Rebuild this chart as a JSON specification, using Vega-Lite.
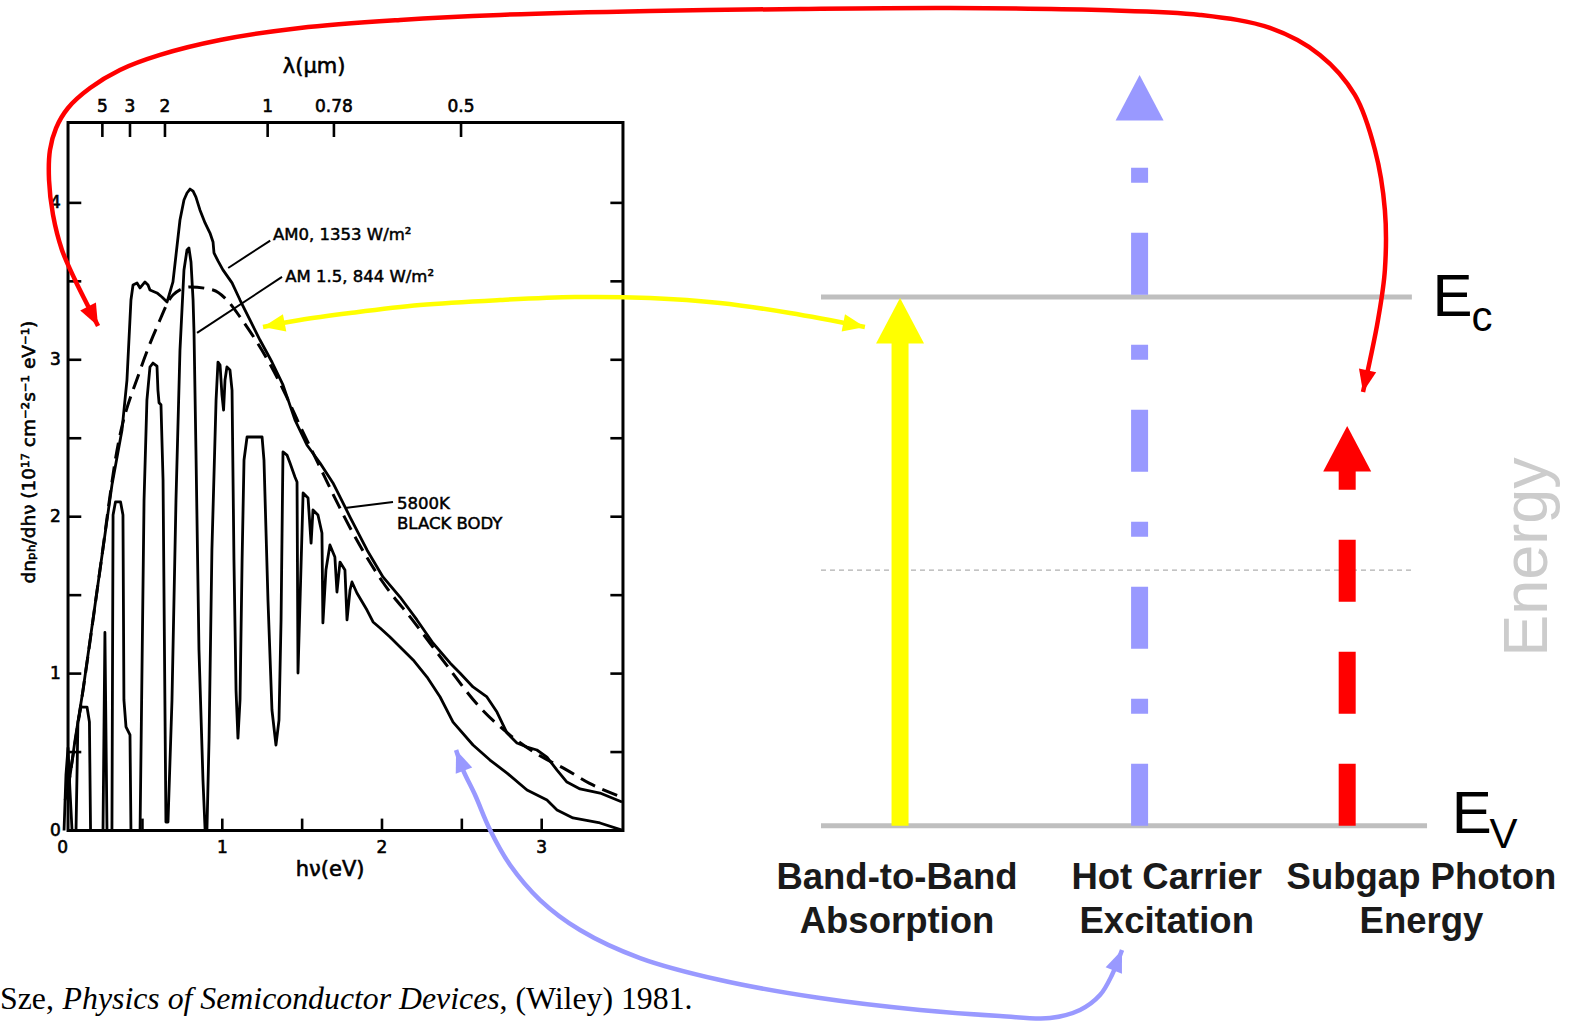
{
  "$schema": "https://vega.github.io/schema/vega-lite/v6.json",
  "width": 1573,
  "height": 1021,
  "autosize": {"type": "none"},
  "padding": 0,
  "background": "white",
  "config": {"view": {"stroke": null}},
  "encoding": {
    "x": {"field": "x", "type": "quantitative", "scale": {"domain": [-0.392, 9.458], "nice": false, "zero": false}, "axis": null},
    "y": {"field": "y", "type": "quantitative", "scale": {"domain": [-1.214, 5.293], "nice": false, "zero": false}, "axis": null}
  },
  "datasets": {
    "frame": [{"x": 0.034, "x2": 3.509, "y": 0, "y2": 4.513}],
    "ticks": [
      {"x": 0.034, "x2": 0.117, "y": 0.5, "y2": 0.5}, {"x": 0.034, "x2": 0.117, "y": 1, "y2": 1},
      {"x": 0.034, "x2": 0.117, "y": 1.5, "y2": 1.5}, {"x": 0.034, "x2": 0.117, "y": 2, "y2": 2},
      {"x": 0.034, "x2": 0.117, "y": 2.5, "y2": 2.5}, {"x": 0.034, "x2": 0.117, "y": 3, "y2": 3},
      {"x": 0.034, "x2": 0.117, "y": 3.5, "y2": 3.5}, {"x": 0.034, "x2": 0.117, "y": 4, "y2": 4},
      {"x": 3.509, "x2": 3.43, "y": 0.5, "y2": 0.5}, {"x": 3.509, "x2": 3.43, "y": 1, "y2": 1},
      {"x": 3.509, "x2": 3.43, "y": 1.5, "y2": 1.5}, {"x": 3.509, "x2": 3.43, "y": 2, "y2": 2},
      {"x": 3.509, "x2": 3.43, "y": 2.5, "y2": 2.5}, {"x": 3.509, "x2": 3.43, "y": 3, "y2": 3},
      {"x": 3.509, "x2": 3.43, "y": 3.5, "y2": 3.5}, {"x": 3.509, "x2": 3.43, "y": 4, "y2": 4},
      {"x": 0.5, "x2": 0.5, "y": 0, "y2": 0.076}, {"x": 1, "x2": 1, "y": 0, "y2": 0.076},
      {"x": 1.5, "x2": 1.5, "y": 0, "y2": 0.076}, {"x": 2, "x2": 2, "y": 0, "y2": 0.076},
      {"x": 2.5, "x2": 2.5, "y": 0, "y2": 0.076}, {"x": 3, "x2": 3, "y": 0, "y2": 0.076},
      {"x": 0.249, "x2": 0.249, "y": 4.513, "y2": 4.42}, {"x": 0.422, "x2": 0.422, "y": 4.513, "y2": 4.42},
      {"x": 0.641, "x2": 0.641, "y": 4.513, "y2": 4.42}, {"x": 1.284, "x2": 1.284, "y": 4.513, "y2": 4.42},
      {"x": 1.699, "x2": 1.699, "y": 4.513, "y2": 4.42}, {"x": 2.495, "x2": 2.495, "y": 4.513, "y2": 4.42}
    ],
    "tickLabels": [
      {"x": 0.249, "y": 4.611, "label": "5"}, {"x": 0.422, "y": 4.611, "label": "3"},
      {"x": 0.641, "y": 4.611, "label": "2"}, {"x": 1.284, "y": 4.611, "label": "1"},
      {"x": 1.699, "y": 4.611, "label": "0.78"}, {"x": 2.495, "y": 4.611, "label": "0.5"},
      {"x": 0, "y": -0.11, "label": "0"}, {"x": 1, "y": -0.11, "label": "1"},
      {"x": 2, "y": -0.11, "label": "2"}, {"x": 3, "y": -0.11, "label": "3"},
      {"x": -0.045, "y": 0, "label": "0"}, {"x": -0.045, "y": 1, "label": "1"},
      {"x": -0.045, "y": 2, "label": "2"}, {"x": -0.045, "y": 3, "label": "3"},
      {"x": -0.045, "y": 4, "label": "4"}
    ],
    "axisTitles": [
      {"x": 1.575, "y": 4.866, "label": "λ(μm)"},
      {"x": 1.675, "y": -0.252, "label": "hν(eV)"}
    ],
    "yTitle": [{"x": -0.21, "y": 2.412, "label": "dnₚₕ/dhν (10¹⁷ cm⁻²s⁻¹ eV⁻¹)"}],
    "spectra": [
      {"series": "5800K", "x": 0.03, "y": 0.25}, {"series": "5800K", "x": 0.128, "y": 0.895},
      {"series": "5800K", "x": 0.234, "y": 1.66}, {"series": "5800K", "x": 0.341, "y": 2.425},
      {"series": "5800K", "x": 0.485, "y": 2.932}, {"series": "5800K", "x": 0.591, "y": 3.209},
      {"series": "5800K", "x": 0.691, "y": 3.413}, {"series": "5800K", "x": 0.798, "y": 3.464},
      {"series": "5800K", "x": 0.942, "y": 3.445}, {"series": "5800K", "x": 1.029, "y": 3.381},
      {"series": "5800K", "x": 1.111, "y": 3.273}, {"series": "5800K", "x": 1.2, "y": 3.14},
      {"series": "5800K", "x": 1.3, "y": 2.97}, {"series": "5800K", "x": 1.4, "y": 2.77},
      {"series": "5800K", "x": 1.5, "y": 2.55}, {"series": "5800K", "x": 1.6, "y": 2.34},
      {"series": "5800K", "x": 1.7, "y": 2.13}, {"series": "5800K", "x": 1.8, "y": 1.93},
      {"series": "5800K", "x": 1.9, "y": 1.75}, {"series": "5800K", "x": 2.0, "y": 1.59},
      {"series": "5800K", "x": 2.2, "y": 1.33}, {"series": "5800K", "x": 2.4, "y": 1.06},
      {"series": "5800K", "x": 2.6, "y": 0.8}, {"series": "5800K", "x": 2.8, "y": 0.61},
      {"series": "5800K", "x": 3.0, "y": 0.47}, {"series": "5800K", "x": 3.15, "y": 0.39},
      {"series": "5800K", "x": 3.3, "y": 0.3}, {"series": "5800K", "x": 3.5, "y": 0.214},

      {"series": "AM0", "x": 0.015, "y": 0.194}, {"series": "AM0", "x": 0.034, "y": 0.258},
      {"series": "AM0", "x": 0.078, "y": 0.577}, {"series": "AM0", "x": 0.128, "y": 0.895},
      {"series": "AM0", "x": 0.234, "y": 1.66}, {"series": "AM0", "x": 0.309, "y": 2.202},
      {"series": "AM0", "x": 0.372, "y": 2.553}, {"series": "AM0", "x": 0.403, "y": 2.871},
      {"series": "AM0", "x": 0.428, "y": 3.381}, {"series": "AM0", "x": 0.441, "y": 3.477},
      {"series": "AM0", "x": 0.466, "y": 3.489}, {"series": "AM0", "x": 0.485, "y": 3.458},
      {"series": "AM0", "x": 0.516, "y": 3.496}, {"series": "AM0", "x": 0.535, "y": 3.477},
      {"series": "AM0", "x": 0.547, "y": 3.445}, {"series": "AM0", "x": 0.591, "y": 3.426},
      {"series": "AM0", "x": 0.622, "y": 3.4}, {"series": "AM0", "x": 0.654, "y": 3.368},
      {"series": "AM0", "x": 0.691, "y": 3.496}, {"series": "AM0", "x": 0.735, "y": 3.891},
      {"series": "AM0", "x": 0.76, "y": 4.018}, {"series": "AM0", "x": 0.779, "y": 4.063},
      {"series": "AM0", "x": 0.798, "y": 4.088}, {"series": "AM0", "x": 0.817, "y": 4.075},
      {"series": "AM0", "x": 0.835, "y": 4.037}, {"series": "AM0", "x": 0.86, "y": 3.955},
      {"series": "AM0", "x": 0.892, "y": 3.872}, {"series": "AM0", "x": 0.923, "y": 3.808},
      {"series": "AM0", "x": 0.942, "y": 3.751}, {"series": "AM0", "x": 0.948, "y": 3.681},
      {"series": "AM0", "x": 0.973, "y": 3.63}, {"series": "AM0", "x": 1.004, "y": 3.573},
      {"series": "AM0", "x": 1.061, "y": 3.49}, {"series": "AM0", "x": 1.111, "y": 3.381},
      {"series": "AM0", "x": 1.173, "y": 3.254}, {"series": "AM0", "x": 1.236, "y": 3.126},
      {"series": "AM0", "x": 1.311, "y": 2.986}, {"series": "AM0", "x": 1.38, "y": 2.84},
      {"series": "AM0", "x": 1.455, "y": 2.617}, {"series": "AM0", "x": 1.53, "y": 2.457},
      {"series": "AM0", "x": 1.612, "y": 2.342}, {"series": "AM0", "x": 1.693, "y": 2.215},
      {"series": "AM0", "x": 1.737, "y": 2.126}, {"series": "AM0", "x": 1.8, "y": 1.998},
      {"series": "AM0", "x": 1.906, "y": 1.788}, {"series": "AM0", "x": 2.006, "y": 1.616},
      {"series": "AM0", "x": 2.113, "y": 1.488}, {"series": "AM0", "x": 2.219, "y": 1.342},
      {"series": "AM0", "x": 2.319, "y": 1.195}, {"series": "AM0", "x": 2.426, "y": 1.068},
      {"series": "AM0", "x": 2.488, "y": 1.004}, {"series": "AM0", "x": 2.57, "y": 0.915},
      {"series": "AM0", "x": 2.657, "y": 0.851}, {"series": "AM0", "x": 2.72, "y": 0.755},
      {"series": "AM0", "x": 2.783, "y": 0.621}, {"series": "AM0", "x": 2.845, "y": 0.558},
      {"series": "AM0", "x": 2.908, "y": 0.532}, {"series": "AM0", "x": 2.97, "y": 0.513},
      {"series": "AM0", "x": 3.033, "y": 0.468}, {"series": "AM0", "x": 3.096, "y": 0.385},
      {"series": "AM0", "x": 3.158, "y": 0.309}, {"series": "AM0", "x": 3.24, "y": 0.265},
      {"series": "AM0", "x": 3.365, "y": 0.239}, {"series": "AM0", "x": 3.503, "y": 0.182},

      {"series": "AM1.5", "x": 0.009, "y": 0}, {"series": "AM1.5", "x": 0.021, "y": 0.354},
      {"series": "AM1.5", "x": 0.034, "y": 0.526}, {"series": "AM1.5", "x": 0.046, "y": 0.258},
      {"series": "AM1.5", "x": 0.059, "y": 0.003}, {"series": "AM1.5", "x": 0.084, "y": 0},
      {"series": "AM1.5", "x": 0.096, "y": 0.692}, {"series": "AM1.5", "x": 0.115, "y": 0.787},
      {"series": "AM1.5", "x": 0.153, "y": 0.787}, {"series": "AM1.5", "x": 0.168, "y": 0.692},
      {"series": "AM1.5", "x": 0.175, "y": 0}, {"series": "AM1.5", "x": 0.253, "y": 0},
      {"series": "AM1.5", "x": 0.265, "y": 1.262}, {"series": "AM1.5", "x": 0.278, "y": 0},
      {"series": "AM1.5", "x": 0.309, "y": 0}, {"series": "AM1.5", "x": 0.316, "y": 2.011},
      {"series": "AM1.5", "x": 0.331, "y": 2.094}, {"series": "AM1.5", "x": 0.363, "y": 2.094},
      {"series": "AM1.5", "x": 0.378, "y": 2.011}, {"series": "AM1.5", "x": 0.384, "y": 0.832},
      {"series": "AM1.5", "x": 0.397, "y": 0.66}, {"series": "AM1.5", "x": 0.422, "y": 0.609},
      {"series": "AM1.5", "x": 0.428, "y": 0}, {"series": "AM1.5", "x": 0.485, "y": 0},
      {"series": "AM1.5", "x": 0.51, "y": 2.106}, {"series": "AM1.5", "x": 0.528, "y": 2.743},
      {"series": "AM1.5", "x": 0.547, "y": 2.954}, {"series": "AM1.5", "x": 0.566, "y": 2.979},
      {"series": "AM1.5", "x": 0.591, "y": 2.96}, {"series": "AM1.5", "x": 0.597, "y": 2.807},
      {"series": "AM1.5", "x": 0.604, "y": 2.726}, {"series": "AM1.5", "x": 0.616, "y": 2.713},
      {"series": "AM1.5", "x": 0.629, "y": 2.234}, {"series": "AM1.5", "x": 0.647, "y": 0.054},
      {"series": "AM1.5", "x": 0.66, "y": 0.054}, {"series": "AM1.5", "x": 0.685, "y": 0.832},
      {"series": "AM1.5", "x": 0.71, "y": 2.106}, {"series": "AM1.5", "x": 0.735, "y": 3.062},
      {"series": "AM1.5", "x": 0.76, "y": 3.572}, {"series": "AM1.5", "x": 0.779, "y": 3.7},
      {"series": "AM1.5", "x": 0.791, "y": 3.713}, {"series": "AM1.5", "x": 0.804, "y": 3.623},
      {"series": "AM1.5", "x": 0.817, "y": 3.381}, {"series": "AM1.5", "x": 0.823, "y": 3.171},
      {"series": "AM1.5", "x": 0.835, "y": 2.425}, {"series": "AM1.5", "x": 0.854, "y": 1.151},
      {"series": "AM1.5", "x": 0.879, "y": 0.322}, {"series": "AM1.5", "x": 0.892, "y": 0.01},
      {"series": "AM1.5", "x": 0.904, "y": 0.01}, {"series": "AM1.5", "x": 0.917, "y": 0.577},
      {"series": "AM1.5", "x": 0.935, "y": 1.788}, {"series": "AM1.5", "x": 0.961, "y": 2.743},
      {"series": "AM1.5", "x": 0.973, "y": 2.985}, {"series": "AM1.5", "x": 0.986, "y": 2.966},
      {"series": "AM1.5", "x": 0.998, "y": 2.775}, {"series": "AM1.5", "x": 1.008, "y": 2.68},
      {"series": "AM1.5", "x": 1.017, "y": 2.871}, {"series": "AM1.5", "x": 1.029, "y": 2.954},
      {"series": "AM1.5", "x": 1.048, "y": 2.935}, {"series": "AM1.5", "x": 1.061, "y": 2.807},
      {"series": "AM1.5", "x": 1.073, "y": 1.724}, {"series": "AM1.5", "x": 1.086, "y": 0.895},
      {"series": "AM1.5", "x": 1.098, "y": 0.589}, {"series": "AM1.5", "x": 1.111, "y": 0.832},
      {"series": "AM1.5", "x": 1.124, "y": 1.724}, {"series": "AM1.5", "x": 1.136, "y": 2.361},
      {"series": "AM1.5", "x": 1.155, "y": 2.508}, {"series": "AM1.5", "x": 1.249, "y": 2.508},
      {"series": "AM1.5", "x": 1.261, "y": 2.361}, {"series": "AM1.5", "x": 1.286, "y": 1.469},
      {"series": "AM1.5", "x": 1.311, "y": 0.768}, {"series": "AM1.5", "x": 1.336, "y": 0.545},
      {"series": "AM1.5", "x": 1.355, "y": 0.704}, {"series": "AM1.5", "x": 1.368, "y": 1.342},
      {"series": "AM1.5", "x": 1.38, "y": 2.413}, {"series": "AM1.5", "x": 1.405, "y": 2.393},
      {"series": "AM1.5", "x": 1.424, "y": 2.342}, {"series": "AM1.5", "x": 1.455, "y": 2.253},
      {"series": "AM1.5", "x": 1.468, "y": 2.221}, {"series": "AM1.5", "x": 1.474, "y": 1.004},
      {"series": "AM1.5", "x": 1.487, "y": 1.469}, {"series": "AM1.5", "x": 1.506, "y": 2.151},
      {"series": "AM1.5", "x": 1.537, "y": 2.119}, {"series": "AM1.5", "x": 1.556, "y": 1.832},
      {"series": "AM1.5", "x": 1.568, "y": 2.043}, {"series": "AM1.5", "x": 1.599, "y": 2.011},
      {"series": "AM1.5", "x": 1.624, "y": 1.896}, {"series": "AM1.5", "x": 1.63, "y": 1.323},
      {"series": "AM1.5", "x": 1.649, "y": 1.66}, {"series": "AM1.5", "x": 1.674, "y": 1.82},
      {"series": "AM1.5", "x": 1.705, "y": 1.743}, {"series": "AM1.5", "x": 1.718, "y": 1.52},
      {"series": "AM1.5", "x": 1.737, "y": 1.711}, {"series": "AM1.5", "x": 1.768, "y": 1.66},
      {"series": "AM1.5", "x": 1.781, "y": 1.342}, {"series": "AM1.5", "x": 1.8, "y": 1.533},
      {"series": "AM1.5", "x": 1.812, "y": 1.584}, {"series": "AM1.5", "x": 1.843, "y": 1.514},
      {"series": "AM1.5", "x": 1.906, "y": 1.405}, {"series": "AM1.5", "x": 1.944, "y": 1.329},
      {"series": "AM1.5", "x": 1.988, "y": 1.291}, {"series": "AM1.5", "x": 2.05, "y": 1.233},
      {"series": "AM1.5", "x": 2.113, "y": 1.17}, {"series": "AM1.5", "x": 2.195, "y": 1.087},
      {"series": "AM1.5", "x": 2.282, "y": 0.978}, {"series": "AM1.5", "x": 2.364, "y": 0.851},
      {"series": "AM1.5", "x": 2.445, "y": 0.691}, {"series": "AM1.5", "x": 2.57, "y": 0.545},
      {"series": "AM1.5", "x": 2.676, "y": 0.449}, {"series": "AM1.5", "x": 2.783, "y": 0.366},
      {"series": "AM1.5", "x": 2.908, "y": 0.258}, {"series": "AM1.5", "x": 3.033, "y": 0.194},
      {"series": "AM1.5", "x": 3.096, "y": 0.131}, {"series": "AM1.5", "x": 3.196, "y": 0.08},
      {"series": "AM1.5", "x": 3.365, "y": 0.048}, {"series": "AM1.5", "x": 3.503, "y": 0.003}
    ],
    "leaders": [
      {"x": 1.037, "y": 3.585, "x2": 1.3, "y2": 3.76},
      {"x": 0.842, "y": 3.171, "x2": 1.374, "y2": 3.528},
      {"x": 1.768, "y": 2.055, "x2": 2.069, "y2": 2.094}
    ],
    "notes": [
      {"x": 1.318, "y": 3.795, "label": "AM0, 1353 W/m²"},
      {"x": 1.394, "y": 3.528, "label": "AM 1.5, 844 W/m²"},
      {"x": 2.094, "y": 2.081, "label": "5800K"},
      {"x": 2.094, "y": 1.953, "label": "BLACK BODY"}
    ],
    "levels": [
      {"level": "Ec", "x": 4.749, "x2": 8.449, "y": 3.4},
      {"level": "Ev", "x": 4.749, "x2": 8.544, "y": 0.031}
    ],
    "midgap": [{"x": 4.749, "x2": 8.465, "y": 1.66}],
    "transitions": [
      {"arrow": "band", "x": 5.244, "y": 0.031, "y2": 3.15},
      {"arrow": "hot", "x": 6.744, "y": 0.031, "y2": 4.49},
      {"arrow": "subgap", "x": 8.044, "y": 0.031, "y2": 2.291}
    ],
    "transitionHeads": [
      {"arrow": "band", "x": 5.244, "y": 3.394},
      {"arrow": "hot", "x": 6.744, "y": 4.815},
      {"arrow": "subgap", "x": 8.044, "y": 2.578}
    ],
    "links": [
      {"arrow": "subgap", "x": 0.222, "y": 3.215}, {"arrow": "subgap", "x": 0.159, "y": 3.343},
      {"arrow": "subgap", "x": 0.078, "y": 3.509}, {"arrow": "subgap", "x": -0.004, "y": 3.7},
      {"arrow": "subgap", "x": -0.06, "y": 3.923}, {"arrow": "subgap", "x": -0.085, "y": 4.146},
      {"arrow": "subgap", "x": -0.079, "y": 4.337}, {"arrow": "subgap", "x": -0.041, "y": 4.477},
      {"arrow": "subgap", "x": 0.034, "y": 4.605}, {"arrow": "subgap", "x": 0.172, "y": 4.732},
      {"arrow": "subgap", "x": 0.359, "y": 4.847}, {"arrow": "subgap", "x": 0.61, "y": 4.943},
      {"arrow": "subgap", "x": 0.986, "y": 5.038}, {"arrow": "subgap", "x": 1.487, "y": 5.115},
      {"arrow": "subgap", "x": 2.113, "y": 5.166}, {"arrow": "subgap", "x": 2.739, "y": 5.198},
      {"arrow": "subgap", "x": 3.678, "y": 5.223}, {"arrow": "subgap", "x": 4.617, "y": 5.236},
      {"arrow": "subgap", "x": 5.557, "y": 5.242}, {"arrow": "subgap", "x": 6.496, "y": 5.229},
      {"arrow": "subgap", "x": 7.122, "y": 5.198}, {"arrow": "subgap", "x": 7.56, "y": 5.115},
      {"arrow": "subgap", "x": 7.873, "y": 4.943}, {"arrow": "subgap", "x": 8.092, "y": 4.688},
      {"arrow": "subgap", "x": 8.218, "y": 4.337}, {"arrow": "subgap", "x": 8.28, "y": 3.955},
      {"arrow": "subgap", "x": 8.28, "y": 3.572}, {"arrow": "subgap", "x": 8.237, "y": 3.254},
      {"arrow": "subgap", "x": 8.187, "y": 2.999}, {"arrow": "subgap", "x": 8.143, "y": 2.795},

      {"arrow": "band", "x": 1.255, "y": 3.209}, {"arrow": "band", "x": 1.487, "y": 3.254},
      {"arrow": "band", "x": 1.8, "y": 3.298}, {"arrow": "band", "x": 2.238, "y": 3.349},
      {"arrow": "band", "x": 2.739, "y": 3.381}, {"arrow": "band", "x": 3.208, "y": 3.4},
      {"arrow": "band", "x": 3.678, "y": 3.394}, {"arrow": "band", "x": 4.117, "y": 3.362},
      {"arrow": "band", "x": 4.555, "y": 3.298}, {"arrow": "band", "x": 5.024, "y": 3.209},

      {"arrow": "hot", "x": 2.464, "y": 0.513}, {"arrow": "hot", "x": 2.508, "y": 0.385},
      {"arrow": "hot", "x": 2.583, "y": 0.226}, {"arrow": "hot", "x": 2.677, "y": 0.003},
      {"arrow": "hot", "x": 2.802, "y": -0.22}, {"arrow": "hot", "x": 2.99, "y": -0.443},
      {"arrow": "hot", "x": 3.24, "y": -0.634}, {"arrow": "hot", "x": 3.616, "y": -0.813},
      {"arrow": "hot", "x": 4.117, "y": -0.953}, {"arrow": "hot", "x": 4.743, "y": -1.068},
      {"arrow": "hot", "x": 5.369, "y": -1.144}, {"arrow": "hot", "x": 5.87, "y": -1.182},
      {"arrow": "hot", "x": 6.183, "y": -1.195}, {"arrow": "hot", "x": 6.371, "y": -1.144},
      {"arrow": "hot", "x": 6.496, "y": -1.049}, {"arrow": "hot", "x": 6.571, "y": -0.921},
      {"arrow": "hot", "x": 6.634, "y": -0.762}
    ],
    "linkHeads": [
      {"arrow": "subgap", "x": 0.222, "y": 3.215, "heading": 153},
      {"arrow": "subgap", "x": 8.143, "y": 2.795, "heading": 192},
      {"arrow": "band", "x": 1.255, "y": 3.209, "heading": 259},
      {"arrow": "band", "x": 5.024, "y": 3.209, "heading": 101},
      {"arrow": "hot", "x": 2.464, "y": 0.513, "heading": 339},
      {"arrow": "hot", "x": 6.634, "y": -0.762, "heading": 22}
    ],
    "captions": [
      {"x": 5.225, "y": -0.373, "label": "Band-to-Band"},
      {"x": 5.225, "y": -0.653, "label": "Absorption"},
      {"x": 6.914, "y": -0.373, "label": "Hot Carrier"},
      {"x": 6.914, "y": -0.653, "label": "Excitation"},
      {"x": 8.509, "y": -0.373, "label": "Subgap Photon"},
      {"x": 8.509, "y": -0.653, "label": "Energy"}
    ],
    "levelNames": [
      {"x": 8.578, "y": 3.279, "label": "E"},
      {"x": 8.698, "y": -0.013, "label": "E"}
    ],
    "levelSubs": [
      {"x": 8.823, "y": 3.183, "label": "c"},
      {"x": 8.935, "y": -0.11, "label": "V"}
    ],
    "energyAxis": [{"x": 9.176, "y": 1.743, "label": "Energy"}],
    "citeRoman": [
      {"x": -0.392, "y": -1.138, "label": "Sze,"},
      {"x": 2.736, "y": -1.138, "label": ", (Wiley) 1981."}
    ],
    "citeItalic": [{"x": 0.0, "y": -1.138, "label": "Physics of Semiconductor Devices"}]
  },
  "layer": [
    {
      "data": {"name": "levels"},
      "mark": {"type": "rule", "stroke": "#bfbfbf", "strokeWidth": 5},
      "encoding": {"x2": {"field": "x2"}}
    },
    {
      "data": {"name": "midgap"},
      "mark": {"type": "rule", "stroke": "#b0b0b0", "strokeWidth": 1.2, "strokeDash": [5, 4]},
      "encoding": {"x2": {"field": "x2"}}
    },
    {
      "data": {"name": "frame"},
      "mark": {"type": "rect", "filled": false, "stroke": "black", "strokeWidth": 3},
      "encoding": {"x2": {"field": "x2"}, "y2": {"field": "y2"}}
    },
    {
      "data": {"name": "ticks"},
      "mark": {"type": "rule", "stroke": "black", "strokeWidth": 2.6},
      "encoding": {"x2": {"field": "x2"}, "y2": {"field": "y2"}}
    },
    {
      "data": {"name": "spectra"},
      "transform": [{"filter": "datum.series !== '5800K'"}],
      "mark": {"type": "line", "stroke": "black", "strokeWidth": 2.8, "strokeJoin": "round"},
      "encoding": {"detail": {"field": "series"}, "order": {"value": null}}
    },
    {
      "data": {"name": "spectra"},
      "transform": [{"filter": "datum.series === '5800K'"}],
      "mark": {"type": "line", "stroke": "black", "strokeWidth": 3, "strokeDash": [16, 8], "interpolate": "monotone"},
      "encoding": {"order": {"value": null}}
    },
    {
      "data": {"name": "leaders"},
      "mark": {"type": "rule", "stroke": "black", "strokeWidth": 2},
      "encoding": {"x2": {"field": "x2"}, "y2": {"field": "y2"}}
    },
    {
      "data": {"name": "tickLabels"},
      "mark": {"type": "text", "font": "DejaVu Sans", "fontSize": 17, "align": "center", "baseline": "middle", "fill": "black", "stroke": "black", "strokeWidth": 0.6},
      "encoding": {"text": {"field": "label"}}
    },
    {
      "data": {"name": "axisTitles"},
      "mark": {"type": "text", "font": "DejaVu Sans", "fontSize": 21, "align": "center", "baseline": "middle", "fill": "black", "stroke": "black", "strokeWidth": 0.6},
      "encoding": {"text": {"field": "label"}}
    },
    {
      "data": {"name": "yTitle"},
      "mark": {"type": "text", "font": "DejaVu Sans", "fontSize": 18.5, "align": "center", "baseline": "middle", "angle": 270, "fill": "black", "stroke": "black", "strokeWidth": 0.6},
      "encoding": {"text": {"field": "label"}}
    },
    {
      "data": {"name": "notes"},
      "mark": {"type": "text", "font": "DejaVu Sans", "fontSize": 16.5, "align": "left", "baseline": "middle", "fill": "black", "stroke": "black", "strokeWidth": 0.5},
      "encoding": {"text": {"field": "label"}}
    },
    {
      "data": {"name": "transitions"},
      "mark": {"type": "rule", "strokeWidth": 17, "strokeCap": "butt"},
      "encoding": {
        "y2": {"field": "y2"},
        "color": {"field": "arrow", "type": "nominal", "scale": {"domain": ["band", "hot", "subgap"], "range": ["#ffff00", "#9999ff", "#ff0000"]}, "legend": null},
        "strokeDash": {"field": "arrow", "type": "nominal", "scale": {"domain": ["band", "hot", "subgap"], "range": [[1, 0], [62, 50, 15, 50], [62, 50]]}, "legend": null}
      }
    },
    {
      "data": {"name": "transitionHeads"},
      "mark": {"type": "point", "shape": "M0,0L1,1.9L-1,1.9Z", "size": 2304, "filled": true, "opacity": 1, "strokeWidth": 0},
      "encoding": {
        "color": {"field": "arrow", "type": "nominal", "scale": {"domain": ["band", "hot", "subgap"], "range": ["#ffff00", "#9999ff", "#ff0000"]}, "legend": null}
      }
    },
    {
      "data": {"name": "links"},
      "mark": {"type": "line", "strokeWidth": 4.5, "interpolate": "catmull-rom", "strokeCap": "butt"},
      "encoding": {
        "order": {"value": null},
        "color": {"field": "arrow", "type": "nominal", "scale": {"domain": ["band", "hot", "subgap"], "range": ["#ffff00", "#9999ff", "#ff0000"]}, "legend": null}
      }
    },
    {
      "data": {"name": "linkHeads"},
      "mark": {"type": "point", "shape": "M0,0L0.8,2L-0.8,2Z", "size": 484, "filled": true, "opacity": 1, "strokeWidth": 0},
      "encoding": {
        "angle": {"field": "heading", "type": "quantitative", "scale": null},
        "color": {"field": "arrow", "type": "nominal", "scale": {"domain": ["band", "hot", "subgap"], "range": ["#ffff00", "#9999ff", "#ff0000"]}, "legend": null}
      }
    },
    {
      "data": {"name": "captions"},
      "mark": {"type": "text", "font": "Liberation Sans", "fontWeight": "bold", "fontSize": 36.5, "align": "center", "baseline": "alphabetic", "fill": "#1a1a1a"},
      "encoding": {"text": {"field": "label"}}
    },
    {
      "data": {"name": "levelNames"},
      "mark": {"type": "text", "font": "Liberation Sans", "fontSize": 60, "align": "left", "baseline": "alphabetic", "fill": "black"},
      "encoding": {"text": {"field": "label"}}
    },
    {
      "data": {"name": "levelSubs"},
      "mark": {"type": "text", "font": "Liberation Sans", "fontSize": 42, "align": "left", "baseline": "alphabetic", "fill": "black"},
      "encoding": {"text": {"field": "label"}}
    },
    {
      "data": {"name": "energyAxis"},
      "mark": {"type": "text", "font": "Liberation Sans", "fontSize": 63, "align": "center", "baseline": "middle", "angle": 270, "fill": "#cccccc"},
      "encoding": {"text": {"field": "label"}}
    },
    {
      "data": {"name": "citeRoman"},
      "mark": {"type": "text", "font": "Liberation Serif", "fontSize": 31.8, "align": "left", "baseline": "alphabetic", "fill": "black"},
      "encoding": {"text": {"field": "label"}}
    },
    {
      "data": {"name": "citeItalic"},
      "mark": {"type": "text", "font": "Liberation Serif", "fontStyle": "italic", "fontSize": 31.8, "align": "left", "baseline": "alphabetic", "fill": "black"},
      "encoding": {"text": {"field": "label"}}
    }
  ]
}
